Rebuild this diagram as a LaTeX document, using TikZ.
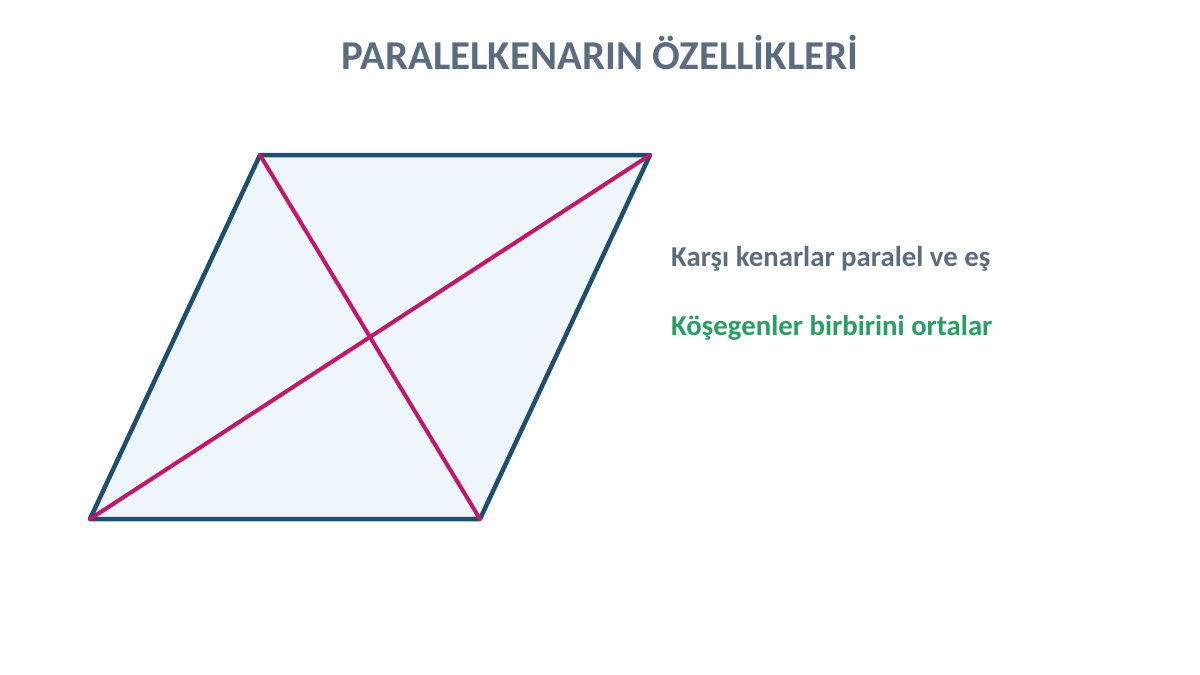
\documentclass[tikz,border=0pt]{standalone}
\usepackage{fontspec}
\setmainfont{Carlito}
\usetikzlibrary{positioning}
\definecolor{titlegray}{HTML}{5B6B80}
\definecolor{edgeblue}{HTML}{1F4E6E}
\definecolor{diagpink}{HTML}{C0186A}
\definecolor{fillblue}{HTML}{EEF5FB}
\definecolor{notegreen}{HTML}{2A9D63}
\tikzset{
    side/.style={draw=edgeblue, line width=4.5pt, line join=round},
    diag/.style={draw=diagpink, line width=4pt, line cap=round},
    note/.style={anchor=west, font=\bfseries\fontsize{28.8}{32}\selectfont, inner sep=0pt}
}
\begin{document}
\begin{tikzpicture}[x=1pt, y=-1pt]
    \useasboundingbox (0,0) rectangle (1200,675);

    \node[font=\bfseries\fontsize{41}{46}\selectfont, text=titlegray, inner sep=0pt] (title) at (600,52) {PARALELKENARIN ÖZELLİKLERİ};

    \coordinate (A) at (90,519);
    \coordinate (B) at (480,519);
    \coordinate (C) at (650,155);
    \coordinate (D) at (260,155);

    \fill[fillblue] (A) -- (B) -- (C) -- (D) -- cycle;
    \draw[side] (A) -- (B) -- (C) -- (D) -- cycle;
    \path[diag]
    (D) edge (B)
    (A) edge (C)
    ;

    \node[note, text=titlegray] (sides) at (671,259) {Karşı kenarlar paralel ve eş};
    \node[note, text=notegreen] (diags) at (671,328) {Köşegenler birbirini ortalar};
\end{tikzpicture}
\end{document}
